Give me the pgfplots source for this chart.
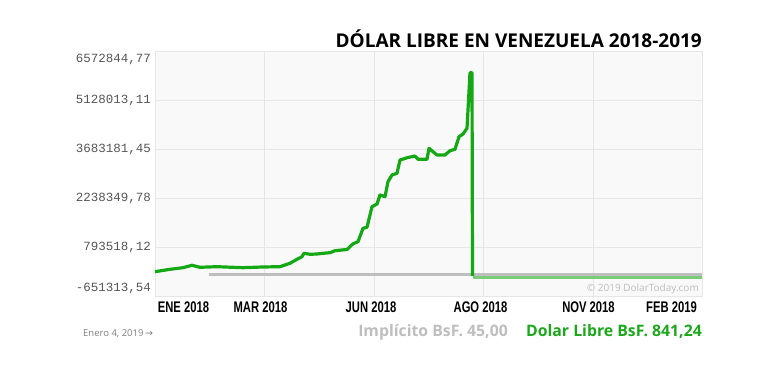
\documentclass[border=0pt]{standalone}
\usepackage{pgfplots}
\pgfplotsset{compat=1.18}
\usepackage{fontspec}
\setmainfont{Open Sans}
\newfontfamily\monofont{Liberation Mono}
\newfontfamily\xfont[FakeStretch=0.73]{Liberation Sans}
\newfontfamily\arrowfont{DejaVu Sans}
\definecolor{bgcol}{HTML}{F9F9F9}
\definecolor{gridcol}{HTML}{E6E6E6}
\definecolor{linegreen}{HTML}{14A814}
\definecolor{lightgreen}{HTML}{7ACC7A}
\definecolor{implgray}{HTML}{BEBEBE}
\definecolor{ticktext}{HTML}{555555}
\definecolor{footgreen}{HTML}{1BA81B}
\begin{document}
\begin{tikzpicture}
\path (0pt,0pt) rectangle (782pt,382pt);
\begin{axis}[
  at={(155pt,86pt)}, anchor=south west, scale only axis,
  width=547pt, height=245pt,
  xmin=155, xmax=702, ymin=-651313.54, ymax=6572844.77,
  scaled y ticks=false,
  axis background/.style={fill=bgcol},
  axis line style={draw=gridcol, line width=0.8pt},
  major tick length=0pt,
  grid=major, major grid style={draw=gridcol, line width=0.8pt},
  xtick={264,374,483,593}, xticklabels={},
  extra x ticks={183.5,260.5,371,480.5,588.5,671.5},
  extra x tick labels={ENE 2018,MAR 2018,JUN 2018,AGO 2018,NOV 2018,FEB 2019},
  extra x tick style={grid=none, xticklabel style={font=\xfont\bfseries\fontsize{15.4}{16}\selectfont, text=black, inner sep=0pt, anchor=north, yshift=-5.7pt}},
  ytick={793518.12,2238349.78,3683181.45,5128013.11},
  yticklabels={793518{,}12,2238349{,}78,3683181{,}45,5128013{,}11},
  yticklabel style={font=\monofont\fontsize{12.5}{13}\selectfont, text=ticktext, inner sep=0pt, anchor=east, xshift=-4pt},
  extra y ticks={-651313.54,6572844.77},
  extra y tick labels={},
  clip=false,
]
\addplot[draw=implgray, line width=3pt] coordinates {(209,-32100) (702,-32100)};
\addplot[draw=lightgreen, line width=2.5pt] coordinates {(472.5,-105815) (702,-105815)};
\addplot[draw=linegreen, line width=3.2pt, line join=round] coordinates {
(155,65205) (170,135972) (183,183150) (192,253917) (200,194945) (217,212637)
(243,183150) (263,203791) (280,212637) (290,312890) (297,430836) (302,507500)
(304,607754) (310,578267) (317,587113) (323,607754) (330,625445) (335,684418)
(347,719802) (353,887874) (358,949795) (363,1344913) (367,1374400) (372,1981818)
(377,2061431) (380,2326809) (385,2276682) (388,2718977) (392,2916536) (397,2966663)
(400,3358832) (408,3432547) (415,3476777) (418,3379472) (427,3379472) (429,3703822)
(433,3603569) (437,3506263) (445,3506263) (450,3633055) (455,3674336) (459,4045863)
(463,4125477) (467,4293549) (468,4833149) (470,5932990) (472,5932990) (472.5,-61586)
};
\node[anchor=east, inner sep=0pt, font=\monofont\fontsize{12.5}{13}\selectfont, text=ticktext] at ([xshift=-4pt,yshift=-8pt]rel axis cs:0,1) {6572844,77};
\node[anchor=east, inner sep=0pt, font=\monofont\fontsize{12.5}{13}\selectfont, text=ticktext] at ([xshift=-4pt,yshift=8pt]rel axis cs:0,0) {-651313,54};
\node[anchor=east, inner sep=0pt, font=\fontsize{10}{11}\selectfont, text=implgray] at ([xshift=-3pt,yshift=7pt]rel axis cs:1,0) {© 2019 DolarToday.com};
\end{axis}
\node[anchor=base east, inner sep=0pt, font=\bfseries\fontsize{19}{21}\selectfont] at (702pt,334.3pt) {DÓLAR LIBRE EN VENEZUELA 2018-2019};
\node[anchor=base east, inner sep=0pt, font=\bfseries\fontsize{15.8}{17}\selectfont, text=footgreen] at (702pt,45.3pt) {Dolar Libre BsF. 841,24};
\node[anchor=base east, inner sep=0pt, font=\bfseries\fontsize{15.8}{17}\selectfont, text=implgray] at (508pt,45.3pt) {Implícito BsF. 45,00};
\node[anchor=base west, inner sep=0pt, font=\fontsize{9.5}{11}\selectfont, text=gray] at (83pt,45.5pt) {Enero 4, 2019\,{\arrowfont →}};
\end{tikzpicture}
\end{document}
